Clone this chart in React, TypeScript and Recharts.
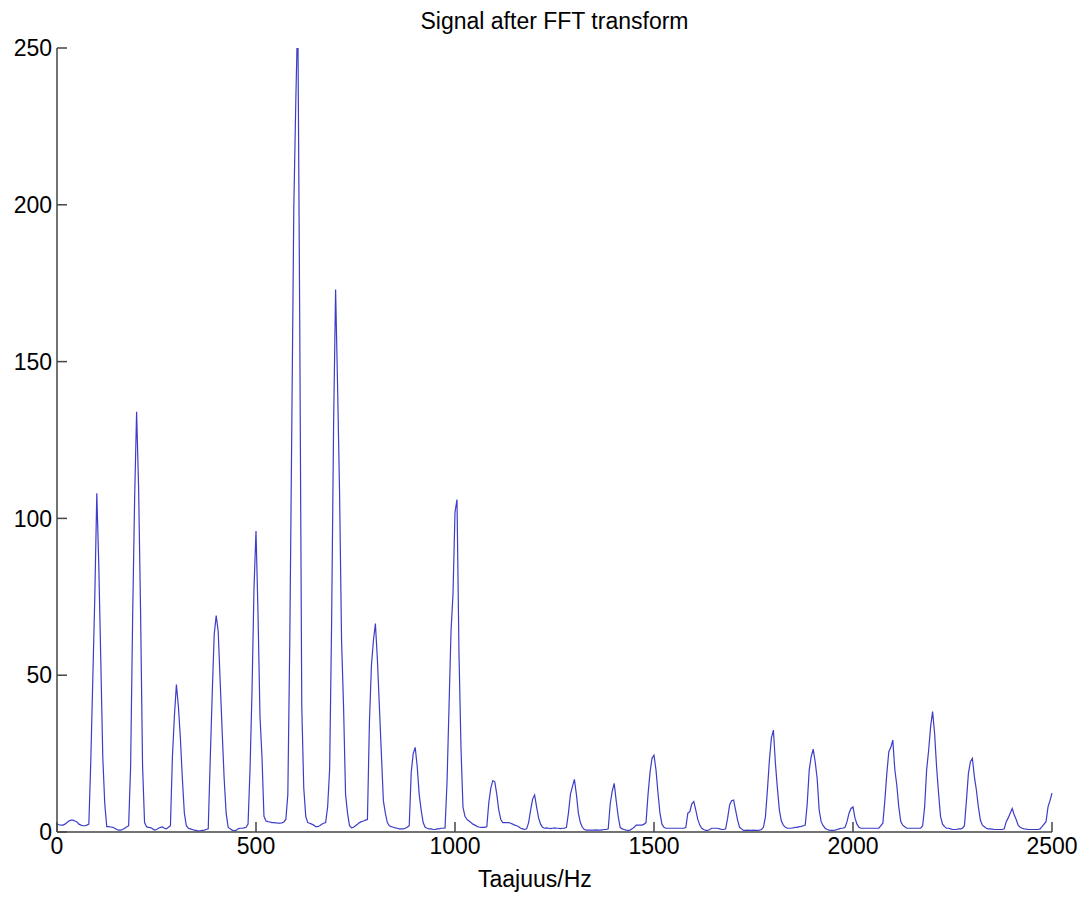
import { LineChart, Line, XAxis, YAxis } from "recharts"

// FFT bins, 5 Hz apart (one line = 100 Hz)
const STEP_HZ = 5

const band0to500 = [
  2.5, 2.3, 2.2, 2.2, 2.5, 3, 3.5, 3.8, 3.8, 3.5, 3.2, 2.5, 2.2, 2.0, 2.0, 2.2, 2.5, 23, 49, 75,
  108, 85, 55, 24, 9, 1.7, 1.7, 1.6, 1.5, 1.2, 0.8, 0.6, 0.6, 0.8, 1.2, 1.6, 2, 21, 68, 106,
  134, 110, 70, 21, 3, 1.7, 1.5, 1.4, 1.0, 0.6, 0.8, 1.2, 1.5, 1.6, 1.2, 1.0, 1.5, 2, 24, 37,
  47, 40, 30, 17, 6, 2, 1.2, 1.0, 0.8, 0.6, 0.5, 0.3, 0.4, 0.5, 0.6, 0.8, 1, 23, 44, 63,
  69, 64, 48, 32, 17, 6, 1.5, 1.0, 0.6, 0.4, 0.5, 1.0, 1.2, 1.2, 1.3, 1.5, 2.5, 20, 45, 78,
]

const band500to1000 = [
  96, 70, 37, 24, 5, 3.5, 3.3, 3.2, 3.0, 3.0, 2.9, 2.8, 2.8, 2.9, 3.2, 4, 12, 62, 130, 199,
  233, 262, 160, 40, 14, 5, 3, 2.8, 2.5, 2.2, 1.7, 1.7, 2.0, 2.5, 2.8, 3, 8, 20, 67, 130,
  173, 142, 108, 61, 40, 12, 6, 2, 1.3, 1.5, 2.0, 2.5, 3.0, 3.3, 3.5, 3.8, 4, 35, 53, 61,
  66.5, 55, 40, 25, 10, 6, 3, 2, 1.7, 1.5, 1.3, 1.2, 1.0, 1.0, 1.0, 1.2, 1.5, 2, 19, 25,
  27, 21, 12, 7, 3, 1.5, 1.2, 1.0, 1.0, 0.8, 0.8, 1.0, 1.0, 1.2, 1.2, 1.3, 16, 40, 64, 76,
]

const band1000to1500 = [
  102, 106, 57, 27, 8, 5, 4, 3.5, 3, 2.5, 2.2, 1.8, 1.6, 1.5, 1.5, 1.5, 1.7, 9.5, 14, 16.4,
  16, 12, 7, 4, 3, 3, 3, 3, 2.8, 2.5, 2.2, 2.0, 1.7, 1.2, 1.0, 0.8, 1.0, 3, 7, 10.5,
  11.8, 8, 4.5, 2.5, 1.5, 1.2, 1.3, 1.2, 1.1, 1.2, 1.3, 1.2, 1.2, 1.1, 1.2, 1.2, 1.5, 6, 12, 14.5,
  16.8, 12, 6, 3, 1.5, 0.8, 0.6, 0.6, 0.6, 0.6, 0.6, 0.7, 0.6, 0.6, 0.7, 0.8, 0.8, 1, 9, 13,
  15.5, 10, 5, 1.5, 1.0, 0.8, 0.6, 0.5, 0.6, 1.0, 1.5, 2.2, 2.2, 2.2, 2.2, 2.5, 3, 12, 19, 23.5,
]

const band1500to2000 = [
  24.5, 19.8, 12.5, 6, 2.5, 1.5, 1.2, 1.2, 1.2, 1.2, 1.2, 1.2, 1.2, 1.2, 1.2, 1.2, 1.5, 6, 6.5, 9,
  9.7, 7, 4, 2.2, 1.2, 0.8, 0.5, 0.5, 0.8, 1.2, 1.2, 1.2, 1.2, 1.0, 0.8, 0.8, 1.0, 4.4, 8.6, 10,
  10.2, 7, 3.8, 1.5, 1.0, 0.5, 0.5, 0.6, 0.5, 0.5, 0.6, 0.5, 0.5, 0.6, 0.8, 1.5, 4.9, 13.4, 23, 30,
  32.5, 22, 14, 7, 3.5, 2.2, 1.5, 1.2, 1.2, 1.2, 1.3, 1.5, 1.5, 1.7, 1.8, 2, 2.2, 9, 19.8, 24,
  26.4, 22.4, 17, 7, 3.3, 2, 1.2, 0.8, 0.6, 0.5, 0.5, 0.6, 0.8, 1.0, 1.2, 1.2, 1.5, 3.3, 6, 7.5,
]

const band2000to2500 = [
  8, 4.4, 2.5, 1.5, 1.2, 1.2, 1.2, 1.2, 1.2, 1.2, 1.2, 1.2, 1.2, 1.2, 2.0, 2.8, 10, 18.7, 25.6, 27,
  29.3, 20, 15, 8, 3.3, 2.2, 1.7, 1.2, 1.2, 1.2, 1.2, 1.2, 1.2, 1.2, 1.2, 2, 8, 19.8, 26, 33.6,
  38.4, 31.5, 20.8, 12.3, 4.9, 2.5, 1.7, 1.2, 1.2, 1.0, 0.8, 0.8, 0.8, 1.0, 1.0, 1.2, 2, 10, 18.7, 22.4,
  23.5, 17.6, 13.4, 8, 3.8, 2.2, 1.7, 1.2, 1.0, 1.0, 0.9, 0.8, 0.8, 0.8, 0.8, 0.8, 1.0, 3.3, 4.5, 6,
  7.5, 5.5, 4, 2.2, 1.5, 1.2, 1.0, 0.9, 0.8, 0.8, 0.8, 0.8, 0.8, 0.8, 1.0, 1.7, 2.5, 3.3, 8, 10,
  12.4,
]

const xTicks = [0, 500, 1000, 1500, 2000, 2500]
const yTicks = [0, 50, 100, 150, 200, 250]

const amplitude = [...band0to500, ...band500to1000, ...band1000to1500, ...band1500to2000, ...band2000to2500]
const data = amplitude.map((amp, i) => ({ hz: i * STEP_HZ, amp }))

const font = "'Liberation Sans', Arial, sans-serif"
const boxColor = "#444"
const tickStyle = { fill: "#000", fontSize: 23 }

export default function App() {
  return (
    <div style={{ position: "absolute", left: 0, top: 0, width: 1085, height: 900, background: "#fff", fontFamily: font }}>
      <div style={{ position: "absolute", top: 8, left: 0, width: 1109, textAlign: "center", fontSize: 23, color: "#000" }}>
        Signal after FFT transform
      </div>
      <LineChart width={1085} height={900} data={data} margin={{ top: 48, right: 33, bottom: 28, left: 0 }}>
        <XAxis
          type="number"
          dataKey="hz"
          domain={[0, 2500]}
          ticks={xTicks}
          height={40}
          tickSize={-10}
          tickMargin={16}
          tick={tickStyle}
          stroke={boxColor}
          strokeWidth={1.5}
        />
        <XAxis
          xAxisId="top"
          orientation="top"
          type="number"
          dataKey="hz"
          domain={[0, 2500]}
          ticks={xTicks}
          height={0}
          tickSize={-10}
          tick={false}
          stroke={boxColor}
          strokeWidth={1.5}
        />
        <YAxis
          type="number"
          domain={[0, 250]}
          ticks={yTicks}
          allowDataOverflow
          width={57}
          tickSize={-10}
          tickMargin={15}
          tick={tickStyle}
          stroke={boxColor}
          strokeWidth={1.5}
        />
        <YAxis
          yAxisId="right"
          orientation="right"
          type="number"
          domain={[0, 250]}
          ticks={yTicks}
          width={0}
          tickSize={-10}
          tick={false}
          stroke={boxColor}
          strokeWidth={1.5}
        />
        <Line
          type="linear"
          dataKey="amp"
          stroke="#3d3dc8"
          strokeWidth={1.2}
          dot={false}
          isAnimationActive={false}
        />
      </LineChart>
      <div style={{ position: "absolute", top: 866, left: 478, fontSize: 23, color: "#000" }}>Taajuus/Hz</div>
    </div>
  )
}
